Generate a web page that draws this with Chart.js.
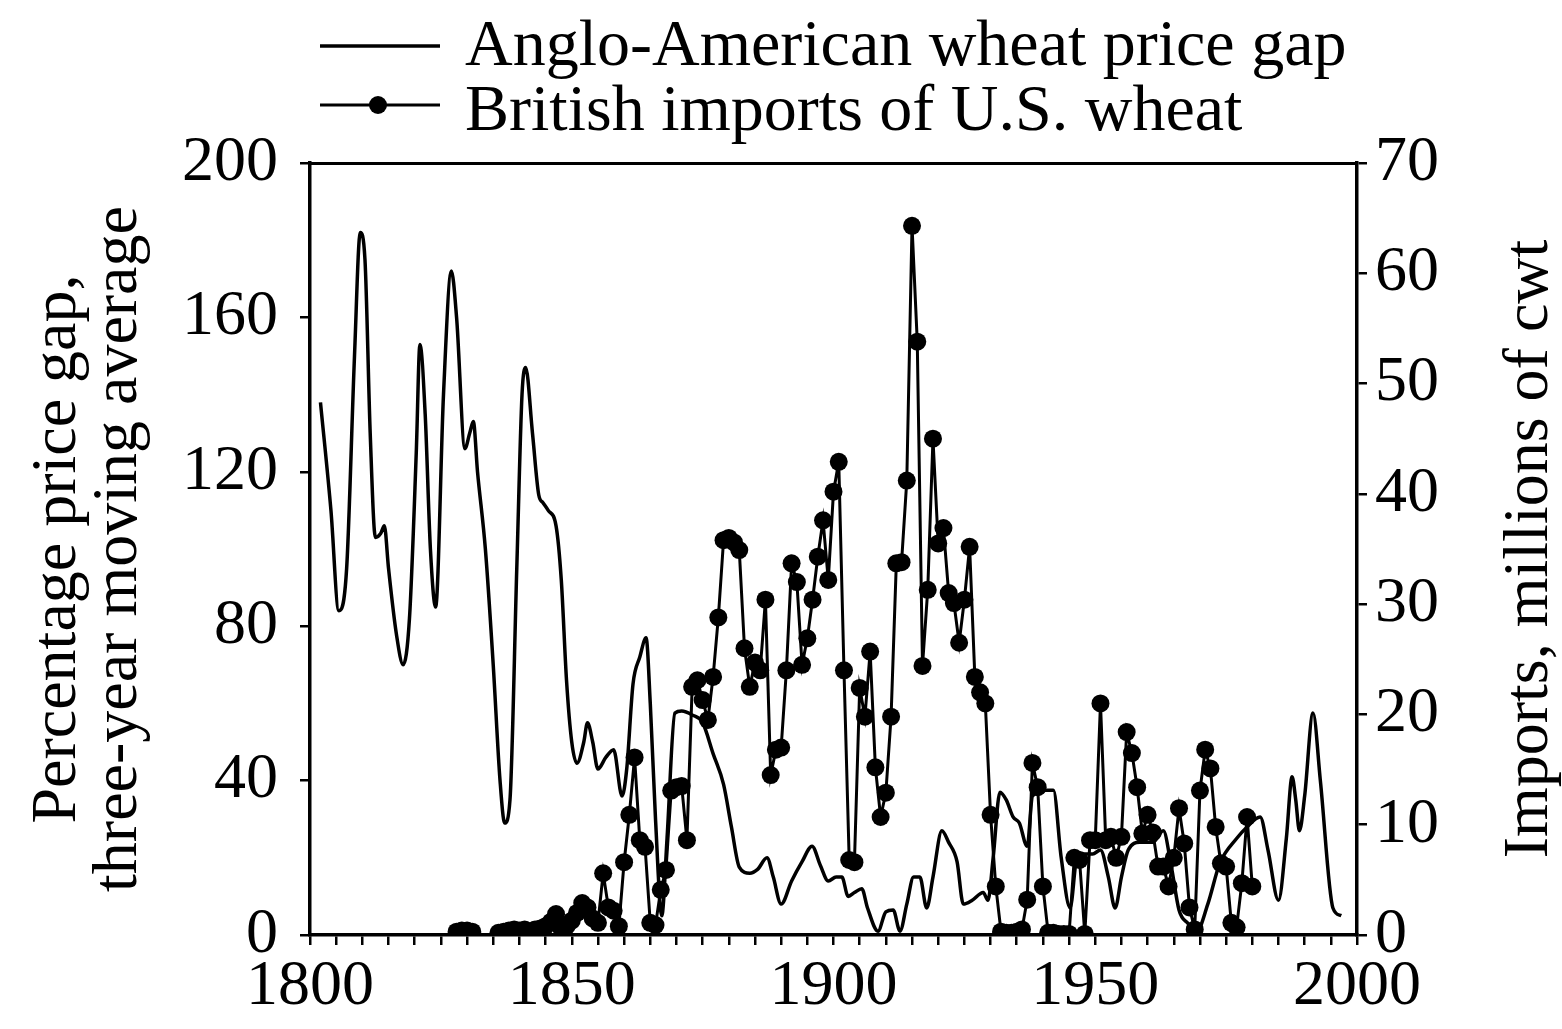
<!DOCTYPE html>
<html>
<head>
<meta charset="utf-8">
<script src="https://cdn.jsdelivr.net/npm/chart.js@4.4.1/dist/chart.umd.min.js"></script>
<style>
    html, body { margin: 0; padding: 0; background: #fff; }
    #wrap { width: 1562px; height: 1029px; }
</style>
</head>
<body>
<div id="wrap"><canvas id="wheat" width="1562" height="1029"></canvas></div>
<script>
// Anglo-American wheat price gap, % (three-year moving average)
const gapYears = [
    1802, 1804, 1805.5, 1807, 1808.5, 1809.6, 1810.5, 1811.5, 1812.5, 1813.5,
    1814.2, 1815, 1816.5, 1817.8, 1819, 1820.3, 1821, 1822, 1823, 1824,
    1825.5, 1827, 1828, 1829.6, 1830.5, 1831.2, 1832, 1833.5, 1835, 1836.3,
    1837.2, 1838.2, 1839.5, 1840.5, 1841.2, 1842.5, 1843.7, 1844.5, 1845.5, 1847,
    1848, 1849, 1850, 1851, 1852.3, 1853, 1854, 1855, 1856.5, 1858,
    1859.6, 1860.5, 1861.7, 1863, 1864.2, 1865, 1866, 1867.2, 1868.2, 1869.7,
    1871, 1873, 1875, 1877, 1879, 1880.5, 1882, 1884, 1885.5, 1887.3,
    1888.5, 1890, 1892, 1894, 1895.9, 1897.5, 1899, 1900.5, 1901.6, 1902.8,
    1904, 1905.4, 1906.5, 1908.5, 1910, 1911.4, 1912.7, 1914, 1915.3, 1916.5,
    1917.8, 1919, 1920.7, 1922, 1923.6, 1924.8, 1926.5, 1928.6, 1929.5, 1930.5,
    1931.8, 1933, 1934.3, 1935.5, 1937, 1938, 1939.5, 1940.5, 1942, 1943.5,
    1945.2, 1946.5, 1948, 1949.5, 1951, 1952.5, 1953.8, 1955, 1956.3, 1958.5,
    1961, 1963, 1964.5, 1966, 1967.7, 1969.4, 1971.5, 1973.8, 1977, 1979,
    1981.5, 1983, 1985, 1986.5, 1987.6, 1988.3, 1989, 1990, 1991.6, 1993,
    1995.4, 1997
];
const gapValues = [
    138, 110, 84, 95, 150, 182, 175, 130, 103, 104,
    106, 95, 78, 70, 82, 125, 153, 135, 100, 85,
    140, 172, 160, 126, 130, 133, 120, 100, 70, 40,
    29, 35, 95, 140, 147, 130, 114, 112, 110, 106,
    92, 66, 50, 44.5, 50, 55, 50, 43, 46, 48,
    36, 43, 65, 72, 77, 60, 30, 5, 25, 57.5,
    58, 57, 55, 47, 39, 28, 17.6, 16, 17, 20,
    15, 8, 14, 19, 23, 18, 14, 15, 15, 10,
    11, 12, 7, 1, 6, 6.5, 1, 8, 15, 15,
    7, 15, 27, 24, 19, 8, 9, 11, 9, 20,
    37, 35, 30.6, 29, 23, 36, 37, 37.5, 37.5, 20,
    7, 20, 21, 21, 22, 15, 7, 15, 22, 24,
    24, 27, 18, 6.5, 3, 1, 8, 18.6, 25, 28,
    30.6, 22, 9, 25, 41, 35, 27, 36, 57.5, 40,
    7, 5
];

// British imports of U.S. wheat, millions of cwt, one value per year from 1828
const importsStartYear = 1828;
const importValues = [
    0.3, 0.4, 0.4, 0.3, null, null, null, null, 0.2, 0.3,      // 1828-1837
    0.4, 0.5, 0.4, 0.5, 0.3, 0.5, 0.6, 0.8, 1.2, 1.9,          // 1838-1847
    0.6, 0.8, 1.3, 2.0, 2.9, 2.5, 1.5, 1.1, 5.6, 2.5,          // 1848-1857
    2.2, 0.8, 6.6, 10.9, 16.1, 8.6, 8.0, 1.1, 0.9, 4.1,        // 1858-1867
    5.9, 13.1, 13.4, 13.5, 8.6, 22.5, 23.1, 21.3, 19.5, 23.4,  // 1868-1877
    28.8, 35.8, 36.0, 35.6, 34.9, 26.0, 22.5, 24.7, 24.0, 30.4, // 1878-1887
    14.5, 16.8, 17.0, 24.0, 33.7, 32.0, 24.5, 26.9, 30.4, 34.3, // 1888-1897
    37.6, 32.2, 40.2, 42.9, 24.0, 6.8, 6.6, 22.4, 19.8, 25.7,  // 1898-1907
    15.2, 10.7, 12.9, 19.8, 33.7, 33.8, 41.2, 64.3, 53.8, 24.4, // 1908-1917
    31.3, 45.0, 35.5, 36.9, 31.0, 30.1, 26.5, 30.4, 35.2, 23.4, // 1918-1927
    22.0, 21.0, 10.9, 4.4, 0.3, 0.2, 0.2, 0.3, 0.5, 3.2,       // 1928-1937
    15.6, 13.4, 4.4, 0.2, 0.2, 0.1, 0.1, 0.1, 7.0, 6.8,        // 1938-1947
    0.1, 8.6, 8.6, 21.0, 8.6, 8.9, 7.0, 8.9, 18.4, 16.5,       // 1948-1957
    13.4, 9.2, 10.9, 9.3, 6.2, 6.2, 4.4, 7.0, 11.5, 8.3,       // 1958-1967
    2.5, 0.5, 13.1, 16.8, 15.1, 9.8, 6.5, 6.2, 1.1, 0.7,       // 1968-1977
    4.7, 10.7, 4.4                                             // 1978-1980
];

const seriesLabels = ['Anglo-American wheat price gap', 'British imports of U.S. wheat'];
const leftTitle = ['Percentage price gap,', 'three-year moving average'];
const rightTitle = 'Imports, millions of cwt';

const FONT = '"Liberation Serif", "Times New Roman", serif';
const INK = '#000';

function gapPoints() {
    let pts = [];
    for (let i = 0; i < gapYears.length; i++) {
        pts.push({x: gapYears[i], y: gapValues[i]});
    }
    return pts;
}

function importPoints() {
    return importValues.map((v, i) => ({x: importsStartYear + i, y: v}));
}

// legend in the top-left and the right axis title (reads bottom to top)
const extraText = {
    id: 'extraText',
    afterDraw(chart) {
        const ctx = chart.ctx;
        ctx.save();
        ctx.fillStyle = INK;
        ctx.strokeStyle = INK;
        ctx.font = '66px ' + FONT;
        ctx.textBaseline = 'alphabetic';
        ctx.textAlign = 'left';

        ctx.lineWidth = 3.5;
        ctx.beginPath();
        ctx.moveTo(320, 46);
        ctx.lineTo(440, 46);
        ctx.stroke();
        ctx.fillText(chart.data.datasets[0].label, 465, 65);

        ctx.lineWidth = 3;
        ctx.beginPath();
        ctx.moveTo(320, 105);
        ctx.lineTo(440, 105);
        ctx.stroke();
        ctx.beginPath();
        ctx.arc(378, 105, 9, 0, Math.PI * 2);
        ctx.fill();
        ctx.fillText(chart.data.datasets[1].label, 465, 130);

        ctx.font = '64px ' + FONT;
        ctx.translate(1530, 549);
        ctx.rotate(-Math.PI / 2);
        ctx.textAlign = 'center';
        ctx.textBaseline = 'middle';
        ctx.fillText(rightTitle, 0, 0);
        ctx.restore();
    }
};

function drawChart() {
    const ctx = document.getElementById('wheat');
    const tickFont = {family: FONT, size: 64};
    new Chart(ctx, {
        type: 'line',
        data: {
            datasets: [{
                label: seriesLabels[0],
                data: gapPoints(),
                yAxisID: 'y',
                borderColor: INK,
                borderWidth: 3.5,
                pointRadius: 0,
                cubicInterpolationMode: 'monotone',
                fill: false
            }, {
                label: seriesLabels[1],
                data: importPoints(),
                yAxisID: 'y2',
                borderColor: INK,
                borderWidth: 3,
                pointRadius: 9,
                pointHoverRadius: 9,
                pointBorderWidth: 0,
                pointBackgroundColor: INK,
                spanGaps: false,
                tension: 0,
                fill: false
            }]
        },
        options: {
            responsive: false,
            animation: false,
            devicePixelRatio: 1,
            layout: {padding: {top: 163, left: 0, right: 0, bottom: 0}},
            plugins: {
                legend: {display: false},
                tooltip: {enabled: false}
            },
            scales: {
                x: {
                    type: 'linear',
                    position: 'bottom',
                    min: 1800,
                    max: 2000,
                    ticks: {
                        stepSize: 5,
                        autoSkip: false,
                        maxRotation: 0,
                        minRotation: 0,
                        padding: 4,
                        color: INK,
                        font: tickFont,
                        callback: v => (v % 50 === 0 ? String(v) : '')
                    },
                    grid: {drawOnChartArea: false, drawTicks: true, tickLength: 10, color: INK, lineWidth: 2.5},
                    border: {color: INK, width: 3.5},
                    afterFit: s => { s.height = 94; }
                },
                xTop: {
                    type: 'linear',
                    position: 'top',
                    min: 1800,
                    max: 2000,
                    ticks: {display: false},
                    grid: {drawOnChartArea: false, drawTicks: false},
                    border: {color: INK, width: 3},
                    afterFit: s => { s.height = 0; }
                },
                y: {
                    position: 'left',
                    min: 0,
                    max: 200,
                    ticks: {stepSize: 40, padding: 22, color: INK, font: tickFont},
                    grid: {drawOnChartArea: false, drawTicks: true, tickLength: 10, color: INK, lineWidth: 2.5},
                    border: {color: INK, width: 3.5},
                    title: {
                        display: true,
                        text: leftTitle,
                        color: INK,
                        font: {family: FONT, size: 64, lineHeight: 0.95},
                        padding: {top: 28, bottom: 0}
                    },
                    afterFit: s => { s.width = 310; }
                },
                y2: {
                    position: 'right',
                    min: 0,
                    max: 70,
                    ticks: {stepSize: 10, padding: 8, color: INK, font: tickFont},
                    grid: {drawOnChartArea: false, drawTicks: true, tickLength: 10, color: INK, lineWidth: 2.5},
                    border: {color: INK, width: 3.5},
                    afterFit: s => { s.width = 205; }
                }
            }
        },
        plugins: [extraText]
    });
}

window.addEventListener('load', evt => drawChart());
</script>
</body>
</html>
